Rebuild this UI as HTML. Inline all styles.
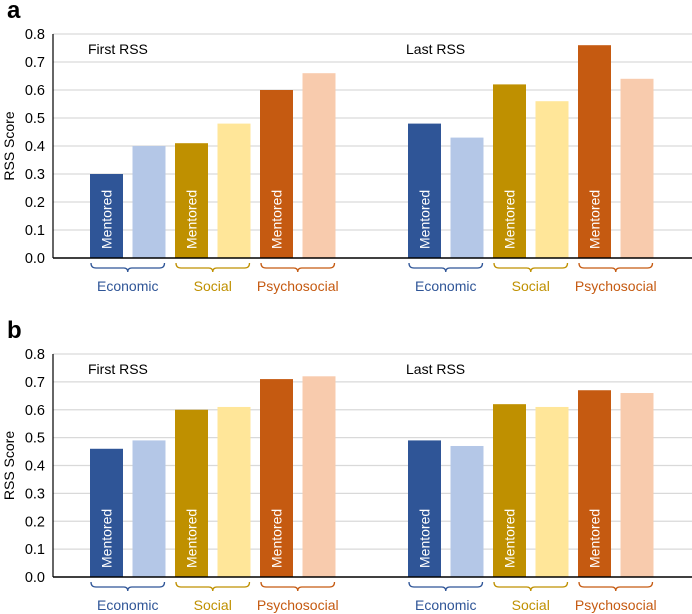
<!DOCTYPE html>
<html><head><meta charset="utf-8"><style>
body{margin:0;background:#fff;}
svg{display:block;font-family:"Liberation Sans",Arial,sans-serif;}
</style></head><body>
<svg id="chart" width="692" height="614"></svg>
<script>
const categories = ["Economic","Social","Psychosocial"];
const yTicks = ["0.0","0.1","0.2","0.3","0.4","0.5","0.6","0.7","0.8"];
const panelATitles = ["First RSS","Last RSS"];
const aFirst = [0.30,0.40,0.41,0.48,0.60,0.66];
const aLast  = [0.48,0.43,0.62,0.56,0.76,0.64];
const bFirst = [0.46,0.49,0.60,0.61,0.71,0.72];
const bLast  = [0.49,0.47,0.62,0.61,0.67,0.66];

const colors = ["#2F5597","#B4C7E7","#BF9000","#FFE699","#C55A11","#F8CBAD"];
const catColors = ["#2F5597","#BF9000","#C55A11"];
const NS = "http://www.w3.org/2000/svg";
const svg = document.getElementById("chart");
function mk(tag, attrs, parent){const e=document.createElementNS(NS,tag);for(const k in attrs)e.setAttribute(k,attrs[k]);(parent||svg).appendChild(e);return e;}

function panel(letter, top, bottom, first, last, prefix){
  const g = mk("g",{});
  
  
  const left = 53, right = 692;
  const y = v => bottom - (v/0.8)*(bottom-top);
  const lbl = mk("text",{x:7,y:top-16,"font-size":24,"font-weight":"bold",fill:"#000"},g);
  lbl.textContent = letter;
  
  
  yTicks.forEach((t,i)=>{
    const v = parseFloat(t), yy = y(v);
    if(i>0){
      const gl = mk("line",{x1:left,x2:right,y1:yy,y2:yy,stroke:"#d9d9d9","stroke-width":1.2},g);
      
      
    }
    const tx = mk("text",{x:45,y:yy+5,"text-anchor":"end","font-size":14.5,fill:"#000"},g);
    tx.textContent = t;
    
    
  });
  const yt = mk("text",{x:0,y:0,"font-size":14,"text-anchor":"middle",fill:"#000",transform:`translate(14,${(top+bottom)/2}) rotate(-90)`},g);
  yt.textContent = "RSS Score";
  
  
  [first,last].forEach((vals,gi)=>{
    const x0 = gi===0 ? 90 : 408;
    const tt = mk("text",{x:x0-2,y:top+20,"font-size":14,fill:"#000"},g);
    tt.textContent = panelATitles[gi];
    
    
    vals.forEach((v,i)=>{
      const bx = x0 + i*42.5;
      const r = mk("rect",{x:bx,y:y(v),width:33,height:bottom-y(v),fill:colors[i]},g);
      
      
      if(i%2===0){
        const mt = mk("text",{x:0,y:0,"font-size":14,fill:"#fff",transform:`translate(${bx+21.5},${bottom-9}) rotate(-90)`},g);
        mt.textContent = "Mentored";
        
        
      }
    });
    categories.forEach((c,ci)=>{
      const a = x0 + ci*85 + 1, b = a + 75.5 - 2, m=(a+b)/2, t=bottom+5;
      const br = mk("path",{d:`M${a},${t} q0,5 5,5 L${m-4},${t+5} q4,0 4,4 q0,-4 4,-4 L${b-5},${t+5} q5,0 5,-5`,fill:"none",stroke:catColors[ci],"stroke-width":1.3},g);
      
      
      const ct = mk("text",{x:m,y:bottom+33,"text-anchor":"middle","font-size":14,fill:catColors[ci]},g);
      ct.textContent = c;
      
      
    });
  });
  const ax = mk("line",{x1:left,x2:right,y1:bottom,y2:bottom,stroke:"#000","stroke-width":1.5},g);
  
  
  const ay = mk("line",{x1:left,x2:left,y1:top,y2:bottom,stroke:"#000","stroke-width":1.2},g);
  
  
}
panel("a",34,258,aFirst,aLast,"a");
panel("b",354,577,bFirst,bLast,"b");
</script>
</body></html>
